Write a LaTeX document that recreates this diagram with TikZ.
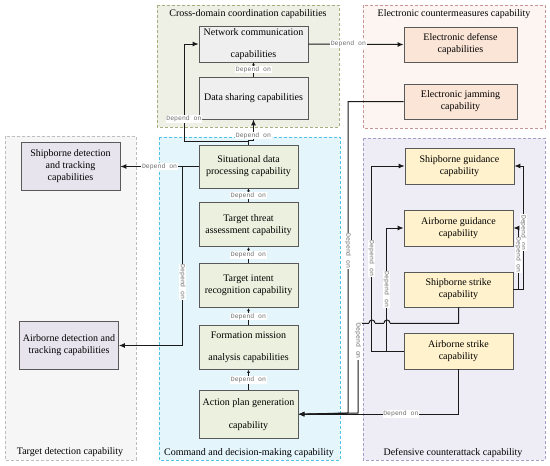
\documentclass[tikz,border=0pt]{standalone}
\usepackage{fontspec}
\setmainfont{Liberation Serif}
\newfontfamily\lblfont{Liberation Mono}
\usetikzlibrary{arrows.meta, positioning}

\definecolor{gonefill}{HTML}{EEF0E6}
\definecolor{goneline}{HTML}{A9AD7F}
\definecolor{gtwofill}{HTML}{FCF5F2}
\definecolor{gtwoline}{HTML}{C99494}
\definecolor{gthreefill}{HTML}{F6F6F6}
\definecolor{gthreeline}{HTML}{BDBDBD}
\definecolor{gfourfill}{HTML}{E4F5FC}
\definecolor{gfourline}{HTML}{4DC3E6}
\definecolor{gfivefill}{HTML}{EEECF4}
\definecolor{gfiveline}{HTML}{A99CC8}
\definecolor{netfill}{HTML}{EFEFEF}
\definecolor{ecmfill}{HTML}{FBE5D6}
\definecolor{detfill}{HTML}{E7E4EE}
\definecolor{cmdfill}{HTML}{EBF1DE}
\definecolor{deffill}{HTML}{FFF2CC}
\definecolor{boxline}{HTML}{595959}
\definecolor{lineblack}{HTML}{1A1A1A}
\definecolor{labelgray}{HTML}{6E6E6E}

\begin{document}
\begin{tikzpicture}[
    x=1pt, y=-1pt,
    node distance=14pt,
    group/.style={line width=0.9pt, dash pattern=on 3pt off 2pt},
    grouptitle/.style={font=\fontsize{10}{12}\selectfont, inner sep=1pt},
    capbox/.style={rectangle, draw=boxline, line width=0.8pt, align=center,
                   font=\fontsize{10}{12}\selectfont, inner sep=1pt},
    netbox/.style={capbox, fill=netfill, minimum width=109pt},
    ecmbox/.style={capbox, fill=ecmfill, minimum width=113pt, minimum height=35pt},
    detbox/.style={capbox, fill=detfill, minimum width=99pt, minimum height=48pt},
    cmdbox/.style={capbox, fill=cmdfill, minimum width=99pt, minimum height=44pt},
    defbox/.style={capbox, fill=deffill, minimum width=109pt, minimum height=36pt},
    arr/.style={-{Latex[length=6pt,width=5pt]}, line width=1pt, draw=lineblack},
    sarr/.style={-{Latex[length=3pt,width=3pt]}, line width=0.8pt, draw=lineblack},
    lbl/.style={font=\lblfont\fontsize{6.5}{7}\selectfont, text=labelgray, fill=white, inner sep=0.8pt},
]
\useasboundingbox (0,0) rectangle (550,466);
\fill[white] (0,0) rectangle (550,466);

% Groups
\draw[group, draw=goneline, fill=gonefill] (157,5) rectangle (339,127);
\draw[group, draw=gtwoline, fill=gtwofill] (363,5) rectangle (545,128);
\draw[group, draw=gthreeline, fill=gthreefill] (5,136) rectangle (136,460);
\draw[group, draw=gfourline, fill=gfourfill] (159,137) rectangle (340,460);
\draw[group, draw=gfiveline, fill=gfivefill] (363,138) rectangle (545,460);

\node[grouptitle] (tcross) at (248,14) {Cross-domain coordination capabilities};
\node[grouptitle] (tecm) at (454,14) {Electronic countermeasures capability};
\node[grouptitle] (tdet) at (70,452) {Target detection capability};
\node[grouptitle] (tcmd) at (249,453) {Command and decision-making capability};
\node[grouptitle] (tdef) at (453,453) {Defensive counterattack capability};

% Cross-domain coordination
\node[netbox, minimum height=36pt] (net) at (253.5,44) {Network communication\\[10pt]capabilities};
\node[netbox, minimum height=42pt] (data) at (253.5,98) {Data sharing capabilities};

% Electronic countermeasures
\node[ecmbox] (edef) at (460.5,44.5) {Electronic defense\\capabilities};
\node[ecmbox] (ejam) at (460.5,101.5) {Electronic jamming\\capability};

% Target detection
\node[detbox] (sdt) at (70.5,166.5) {Shipborne detection\\and tracking\\capabilities};
\node[detbox] (adt) at (69,345.5) {Airborne detection and\\tracking capabilities};

% Command and decision-making
\node[cmdbox, minimum height=43pt] (sit) at (248.5,166.5) {Situational data\\processing capability};
\node[cmdbox, below=14pt of sit] (threat) {Target threat\\assessment capability};
\node[cmdbox, below=16pt of threat] (intent) {Target intent\\recognition capability};
\node[cmdbox, below=17pt of intent] (form) {Formation mission\\[10pt]analysis capabilities};
\node[cmdbox, minimum height=48pt, below=20pt of form] (act) {Action plan generation\\[11pt]capability};

% Defensive counterattack
\node[defbox] (sg) at (459.5,166) {Shipborne guidance\\capability};
\node[defbox] (ag) at (458.5,228) {Airborne guidance\\capability};
\node[defbox, minimum height=35pt] (ss) at (458.5,289.5) {Shipborne strike\\capability};
\node[defbox] (as) at (458.5,351) {Airborne strike\\capability};

% Arrows
\draw[arr] (net.east) -- node[lbl, pos=0.42] {Depend on} (edef.west);
\draw[sarr] (data) -- node[lbl] {Depend on} (net);

\draw[arr] (sit.north) -- ++(0,-4) -| node[lbl, pos=0.62] {Depend on} (data.south);
\coordinate (jnet) at (184,141);
\draw[arr] (sit.north) |- (jnet) -- node[lbl, pos=0.23] {Depend on} (jnet |- net.west) -- (net.west);

\draw[arr] (sit.west) -- ++(-16,0) coordinate (jdet) -- node[lbl, pos=0.37] {Depend on} (sdt.east);
\draw[arr] (jdet) -- node[lbl, rotate=-90, pos=0.645] {Depend on} (jdet |- adt.east) -- (adt.east);

\draw[sarr] (threat) -- node[lbl] {Depend on} (sit);
\draw[sarr] (intent) -- node[lbl] {Depend on} (threat);
\draw[sarr] (form) -- node[lbl] {Depend on} (intent);
\draw[sarr] (act) -- node[lbl] {Depend on} (form);

\coordinate (jjam) at (348,413);
\coordinate (jss) at (358,413);
\draw[arr] (ejam.west) -| node[lbl, rotate=-90, pos=0.74] {Depend on} (jjam) -- (act.east);
\draw[arr] (ss.south) -- ++(0,16) -| node[lbl, rotate=-90, pos=0.6] {Depend on} (jss) -- (act.east);
\draw[arr] (as.south) |- node[lbl, pos=0.68] {Depend on} (act.east);

% line hops over the guidance lines
\foreach \hx in {372,387} {
  \draw[gfivefill, line width=2pt] (\hx-3,323) -- (\hx+3,323);
  \draw[lineblack, line width=1pt] (\hx-3,323) arc (180:360:3);
}

\draw[arr] (as.west) -- ++(-17,0) coordinate (jag) |- node[lbl, rotate=-90, pos=0.25] {Depend on} (ag.west);
\draw[arr] (jag) -- ++(-15,0) |- node[lbl, rotate=-90, pos=0.25] {Depend on} (sg.west);

\draw[arr] (ss.east) -- ++(10,0) |- node[lbl, rotate=-90, pos=0.23] {Depend on} (sg.east);
\draw[arr] (ss.east) -- ++(5,0) |- node[lbl, rotate=-90, pos=0.28] {Depend on} (ag.east);

\end{tikzpicture}
\end{document}
